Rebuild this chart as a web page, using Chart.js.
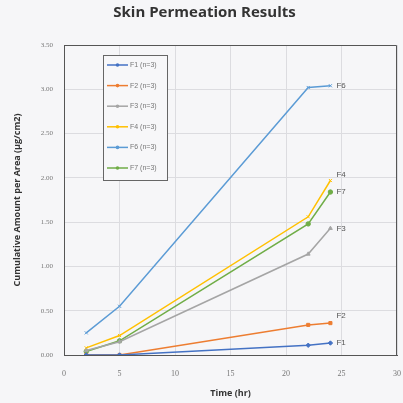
<!DOCTYPE html>
<html><head><meta charset="utf-8">
<script src="https://cdn.jsdelivr.net/npm/chart.js@4/dist/chart.umd.min.js"></script>
<style>html,body{margin:0;padding:0;background:#f6f6f8;}#wrap{width:403px;height:403px;}</style>
</head><body><div id="wrap"><canvas id="c" width="403" height="403"></canvas></div>
<script>
const times = [2, 5, 22, 24];
const seriesNames = ["F1 (n=3)", "F2 (n=3)", "F3 (n=3)", "F4 (n=3)", "F6 (n=3)", "F7 (n=3)"];
const endLabels = ["F1", "F2", "F3", "F4", "F6", "F7"];
const f1 = [0.00, 0.00, 0.11, 0.135];
const f2 = [0.00, 0.00, 0.34, 0.36];
const f3 = [0.05, 0.15, 1.14, 1.43];
const f4 = [0.08, 0.22, 1.56, 1.97];
const f6 = [0.25, 0.55, 3.02, 3.04];
const f7 = [0.04, 0.16, 1.48, 1.84];
const xTicks = [0, 5, 10, 15, 20, 25, 30];
const yTicks = [0, 0.5, 1, 1.5, 2, 2.5, 3, 3.5];

const colors = ["#4472C4", "#ED7D31", "#A5A5A5", "#FFC000", "#5B9BD5", "#70AD47"];
const markers = ["rectRot", "rect", "triangle", "crossRot", "crossRot", "circle"];
const labelOffsets = [[6, 0], [6, -7], [6, 0], [6, -6], [6, 0], [6, 0]];
const values = [f1, f2, f3, f4, f6, f7];

const datasets = values.map((v, i) => ({
  label: seriesNames[i],
  data: v.map((y, j) => ({x: times[j], y: y})),
  borderColor: colors[i],
  backgroundColor: colors[i],
  borderWidth: 1.5,
  pointStyle: markers[i],
  pointRadius: 2.2,
  pointBorderWidth: 1,
  tension: 0
}));

const extras = {
  id: 'extras',
  afterDatasetsDraw(chart) {
    const ctx = chart.ctx;
    const a = chart.chartArea;
    ctx.save();
    ctx.strokeStyle = '#555';
    ctx.lineWidth = 1;
    ctx.beginPath();
    ctx.moveTo(a.left, a.top + 0.5); ctx.lineTo(a.right - 0.5, a.top + 0.5); ctx.lineTo(a.right - 0.5, a.bottom);
    ctx.stroke();
    ctx.font = '8px "Liberation Sans"';
    ctx.fillStyle = '#555';
    ctx.textBaseline = 'middle';
    chart.data.datasets.forEach((ds, i) => {
      const meta = chart.getDatasetMeta(i);
      const p = meta.data[meta.data.length - 1];
      ctx.fillText(endLabels[i], p.x + labelOffsets[i][0], p.y + labelOffsets[i][1]);
    });
    const bx = 103, by = 55, bw = 64, bh = 125;
    ctx.fillStyle = '#f7f7f9';
    ctx.fillRect(bx, by, bw, bh);
    ctx.strokeStyle = '#666';
    ctx.lineWidth = 1;
    ctx.strokeRect(bx + 0.5, by + 0.5, bw, bh);
    ctx.font = '7px "Liberation Sans"';
    chart.data.datasets.forEach((ds, i) => {
      const yy = by + 10 + i * 20.6;
      ctx.strokeStyle = ds.borderColor;
      ctx.lineWidth = 1.5;
      ctx.beginPath(); ctx.moveTo(bx + 4, yy); ctx.lineTo(bx + 25, yy); ctx.stroke();
      ctx.fillStyle = ds.borderColor;
      ctx.beginPath(); ctx.arc(bx + 14.5, yy, 1.8, 0, Math.PI * 2); ctx.fill();
      ctx.fillStyle = '#777';
      ctx.fillText(ds.label, bx + 27, yy);
    });
    ctx.restore();
  }
};

new Chart(document.getElementById('c'), {
  type: 'line',
  data: { datasets },
  plugins: [extras],
  options: {
    responsive: false,
    animation: false,
    layout: { padding: { left: 12, right: 6, top: 2, bottom: 0 } },
    plugins: {
      legend: { display: false },
      tooltip: { enabled: false },
      title: {
        display: true,
        text: 'Skin Permeation Results',
        color: '#333',
        font: { family: '"Open Sans"', size: 15, weight: 'bold' },
        padding: { top: 2, bottom: 23 }
      }
    },
    scales: {
      x: {
        type: 'linear', min: 0, max: 30,
        afterBuildTicks(s) { s.ticks = xTicks.map(v => ({value: v})); },
        afterFit(s) { s.height = 48; s.paddingLeft = 0; s.paddingRight = 0; },
        ticks: { color: '#777', font: { family: '"Liberation Serif"', size: 8 }, padding: 14 },
        grid: { color: '#dcdce0', drawTicks: false },
        border: { color: '#555', width: 1 },
        title: { display: true, text: 'Time (hr)', color: '#333', font: { family: '"Open Sans"', size: 9, weight: 'bold' }, padding: { top: 0, bottom: 4 } }
      },
      y: {
        min: 0, max: 3.5,
        afterBuildTicks(s) { s.ticks = yTicks.map(v => ({value: v})); },
        ticks: { color: '#777', font: { family: '"Liberation Serif"', size: 7 }, padding: 11, callback: v => v.toFixed(2) },
        grid: { color: '#dcdce0', drawTicks: false },
        border: { color: '#555', width: 1 },
        title: { display: true, text: 'Cumulative Amount per Area (μg/cm2)', color: '#333', font: { family: '"Open Sans"', size: 9, weight: 'bold' }, padding: { top: 0, bottom: 7 } }
      }
    }
  }
});
</script></body></html>
